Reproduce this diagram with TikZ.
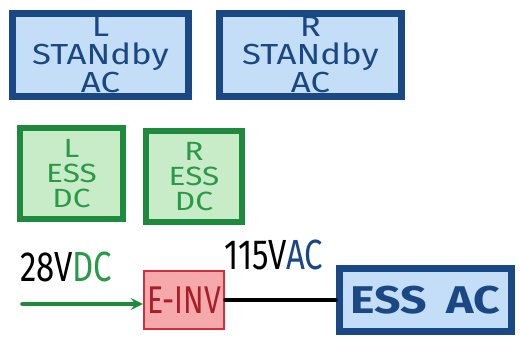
\documentclass[tikz,border=0pt]{standalone}
\usepackage{fontspec}
\setmainfont{Fira Sans}
\newfontfamily\narrowfont[FakeStretch=0.78]{Fira Sans}
\newfontfamily\widefont[FakeStretch=1.2]{Fira Sans}
\definecolor{acline}{HTML}{1A4884}
\definecolor{acfill}{HTML}{C4DEF8}
\definecolor{dcline}{HTML}{1E8A3E}
\definecolor{dcfill}{HTML}{C8EBC8}
\definecolor{dctext}{HTML}{2A9A48}
\definecolor{invline}{HTML}{D0303A}
\definecolor{invfill}{HTML}{F5A9AB}
\definecolor{invtext}{HTML}{A81E2A}
\tikzset{
    acbus/.style = {
        rectangle,
        draw=acline,
        fill=acfill,
        line width=4pt,
        text=acline,
        align=center,
        inner sep=0pt,
        font=\widefont\fontsize{16.5}{16}\selectfont,
    },
    dcbus/.style = {
        rectangle,
        draw=dcline,
        fill=dcfill,
        line width=3.4pt,
        text=dctext,
        align=center,
        inner sep=0pt,
        font=\widefont\fontsize{15}{14}\selectfont,
    },
    invbox/.style = {
        rectangle,
        draw=invline,
        fill=invfill,
        line width=1.2pt,
        text=invtext,
        inner sep=0pt,
        font=\narrowfont\fontsize{22}{22}\selectfont,
    },
    volts/.style = {
        inner sep=0pt,
        font=\narrowfont\fontsize{24}{24}\selectfont,
    },
    feed/.style = {line width=2pt, line cap=round}
}
\begin{document}
\begin{tikzpicture}[x=0.02cm, y=-0.02cm]
  \useasboundingbox (0,0) rectangle (520,338);

  % standby AC buses
  \node[acbus, minimum width=3.52cm, minimum height=1.66cm] (lsby) at (100.5,55)  {L\\STANdby\\AC};
  \node[acbus, minimum width=3.64cm, minimum height=1.66cm] (rsby) at (310.5,55)  {R\\STANdby\\AC};

  % essential DC buses
  \node[dcbus, minimum width=2.06cm, minimum height=1.82cm] (lessdc) at (71.5,173.5) {L\\ESS\\DC};
  \node[dcbus, minimum width=1.92cm, minimum height=1.82cm] (ressdc) at (194,176.5)  {R\\ESS\\DC};

  % inverter and ESS AC
  \node[invbox, minimum width=1.6cm, minimum height=1.16cm] (einv) at (184,300) {E-INV};
  \node[acbus, minimum width=3.44cm, minimum height=1.26cm,
        font=\widefont\fontsize{22}{22}\selectfont\bfseries] (essac) at (425.5,300) {ESS\enspace AC};

  % voltage labels
  \node[volts] (dcvolt) at (66,267)  {28V\textcolor{dctext}{DC}};
  \node[volts] (acvolt) at (274,255) {115V\textcolor{acline}{AC}};

  % connections
  \coordinate (dcin) at (22,304);
  \draw[feed, draw=dcline, -stealth] (dcin) -- (dcin -| einv.west);
  \draw[feed, draw=black] (einv.east) -- (essac.west);

\end{tikzpicture}
\end{document}
